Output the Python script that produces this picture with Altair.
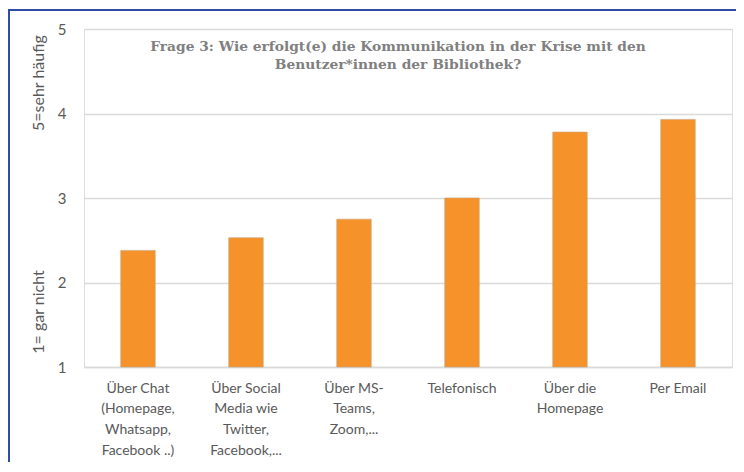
import altair as alt
import pandas as pd

categories = [
    "Über Chat\n(Homepage,\nWhatsapp,\nFacebook ..)",
    "Über Social\nMedia wie\nTwitter,\nFacebook,...",
    "Über MS-\nTeams,\nZoom,...",
    "Telefonisch",
    "Über die\nHomepage",
    "Per Email",
]
values = [2.38, 2.53, 2.75, 3.00, 3.78, 3.93]
y_ticks = [1, 2, 3, 4, 5]
title_lines = [
    "Frage 3: Wie erfolgt(e) die Kommunikation in der Krise mit den",
    "Benutzer*innen der Bibliothek?",
]
y_title = "1= gar nicht" + "\u00a0" * 34 + "5=sehr häufig"

df = pd.DataFrame({"cat": categories, "val": values})

TXT = "#595959"
GRID = "#d9d9d9"
BORDER = "#2f4ea3"

bars = alt.Chart(df).mark_bar(color="#F5922A", stroke="#c9a27a", strokeWidth=0.6).encode(
    x=alt.X(
        "cat:N",
        sort=categories,
        title=None,
        scale=alt.Scale(paddingInner=0.68, paddingOuter=0.34),
        axis=alt.Axis(
            labelAngle=0,
            labelExpr="split(datum.label, '\\n')",
            labelColor=TXT,
            labelFont="Lato",
            labelFontSize=14,
            labelLineHeight=20.7,
            labelPadding=14,
            labelBaseline="top",
            ticks=False,
            domainColor=GRID,
            domainWidth=1.5,
        ),
    ),
    y=alt.Y(
        "val:Q",
        scale=alt.Scale(domain=[1, 5], zero=False, nice=False),
        axis=alt.Axis(
            values=y_ticks,
            title=y_title,
            titleColor=TXT,
            titleFont="Lato",
            titleFontSize=16,
            titleFontWeight="normal",
            titleX=-46,
            titleY=165,
            titleAngle=270,
            titleAlign="center",
            titleBaseline="middle",
            labelColor=TXT,
            labelFont="Lato",
            labelFontSize=15,
            labelPadding=18,
            ticks=False,
            domain=False,
            gridColor=GRID,
            gridWidth=1.5,
        ),
    ),
    y2=alt.datum(1),
)

border_left = alt.Chart(alt.Data(values=[{}])).mark_rule(color=BORDER, strokeWidth=2).encode(
    x=alt.value(-75), y=alt.value(-19), y2=alt.value(434)
)
border_top = alt.Chart(alt.Data(values=[{}])).mark_rule(color=BORDER, strokeWidth=2).encode(
    x=alt.value(-76), x2=alt.value(652), y=alt.value(-19)
)

chart = alt.layer(bars, border_left, border_top).properties(
    width=648,
    height=338,
    autosize=alt.AutoSizeParams(type="none"),
    padding={"left": 76, "top": 21, "right": 4, "bottom": 95},
    title=alt.TitleParams(
        text=title_lines,
        font="DejaVu Serif",
        fontSize=13.8,
        fontWeight="bold",
        color="#808080",
        anchor="middle",
        dx=-10,
        offset=-63,
        lineHeight=18,
    ),
).configure_view(stroke=None).configure(background="white")

chart.save("out.html", embed_options={"renderer": "svg", "actions": False})
